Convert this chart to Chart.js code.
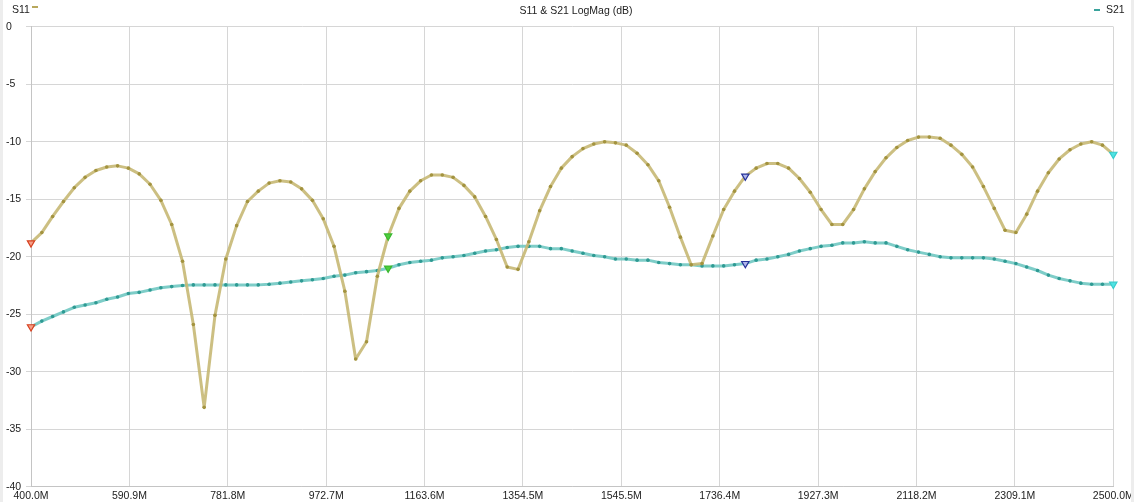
<!DOCTYPE html>
<html><head><meta charset="utf-8">
<script src="https://cdn.jsdelivr.net/npm/chart.js@4"></script>
<style>
html,body{margin:0;padding:0;background:#fff;}
#wrap{position:relative;width:1134px;height:502px;overflow:hidden;font-family:'Liberation Sans',Arial,sans-serif;color:#222;}
canvas{position:absolute;left:0;top:0;}
.t{position:absolute;font-size:10.5px;white-space:nowrap;line-height:12px;}
.edge{position:absolute;top:0;height:502px;background:#ededed;}
</style></head><body>
<div id="wrap">
<canvas id="c" width="1134" height="502"></canvas>
<div class="t" style="left:0;width:1152px;text-align:center;top:4px;">S11 &amp; S21 LogMag (dB)</div>
<div class="t" style="left:12px;top:3px;">S11</div>
<div style="position:absolute;left:32px;top:6px;width:6px;height:2px;background:#b8a85c;"></div>
<div style="position:absolute;left:1094px;top:9px;width:6px;height:2px;background:#3aa39c;"></div>
<div class="t" style="left:1106px;top:3px;">S21</div>
<div class="edge" style="left:0;width:3px;"></div>
<div class="edge" style="left:1131px;width:3px;"></div>
</div>
<script>
// Sweep: 101 points, 400 MHz .. 2500 MHz
const freqStart = 400, freqStep = 21, nPoints = 101;
const freqs = Array.from({length:nPoints}, (_, i) => freqStart + freqStep * i);

const s11 = [
 -18.8,-17.9,-16.5,-15.2,-14.0,-13.1,-12.5,-12.2,-12.1,-12.3,
 -12.8,-13.7,-15.1,-17.2,-20.4,-25.9,-33.1,-25.1,-20.2,-17.3,
 -15.2,-14.3,-13.6,-13.4,-13.5,-14.1,-15.1,-16.7,-19.1,-23.0,
 -28.9,-27.4,-21.7,-18.2,-15.8,-14.3,-13.4,-12.9,-12.9,-13.1,
 -13.8,-14.8,-16.5,-18.5,-20.9,-21.1,-18.7,-16.0,-13.9,-12.3,
 -11.3,-10.6,-10.2,-10.0,-10.1,-10.3,-11.0,-12.0,-13.4,-15.7,
 -18.3,-20.7,-20.6,-18.2,-15.9,-14.3,-13.0,-12.3,-11.9,-11.9,
 -12.3,-13.2,-14.4,-15.9,-17.2,-17.2,-15.9,-14.1,-12.6,-11.4,
 -10.5,-9.9,-9.6,-9.6,-9.7,-10.3,-11.1,-12.2,-13.9,-15.8,
 -17.7,-17.9,-16.3,-14.3,-12.7,-11.5,-10.7,-10.2,-10.0,-10.3,
 -11.1
];
const s21 = [
 -26.1,-25.6,-25.2,-24.8,-24.4,-24.2,-24.0,-23.7,-23.5,-23.2,
 -23.1,-22.9,-22.7,-22.6,-22.5,-22.45,-22.45,-22.45,-22.45,-22.45,
 -22.45,-22.45,-22.4,-22.3,-22.2,-22.1,-22.0,-21.9,-21.7,-21.6,
 -21.4,-21.3,-21.2,-21.0,-20.7,-20.5,-20.4,-20.3,-20.1,-20.0,
 -19.9,-19.7,-19.5,-19.4,-19.2,-19.1,-19.1,-19.1,-19.3,-19.3,
 -19.5,-19.7,-19.9,-20.0,-20.2,-20.2,-20.3,-20.3,-20.5,-20.6,
 -20.7,-20.7,-20.8,-20.8,-20.8,-20.7,-20.6,-20.3,-20.2,-20.0,
 -19.8,-19.5,-19.3,-19.1,-19.0,-18.8,-18.8,-18.7,-18.8,-18.8,
 -19.1,-19.4,-19.6,-19.8,-20.0,-20.1,-20.1,-20.1,-20.1,-20.2,
 -20.4,-20.6,-20.9,-21.2,-21.6,-21.9,-22.1,-22.3,-22.4,-22.4,
 -22.4
];

const xTickValues = [400.0,590.9,781.8,972.7,1163.6,1354.5,1545.5,1736.4,1927.3,2118.2,2309.1,2500.0];
const xTickLabels = ['400.0M','590.9M','781.8M','972.7M','1163.6M','1354.5M','1545.5M','1736.4M','1927.3M','2118.2M','2309.1M','2500.0M'];

// Markers (index into sweep) and their styles
const markerIdx = [0, 33, 66, 100];
const markerFill = ['#f4a08a', '#4ccf3c', '#b0b6ea', '#4fe3e3'];
const markerStroke = ['#d8401f', '#3cb830', '#27349a', '#38cccc'];

function mk(values){ return values.map((v, i) => ({x: freqs[i], y: v})); }
function mi(ctx){ return markerIdx.indexOf(ctx.dataIndex); }

function ds(label, values, lineColor, dotColor){
  return {
    label, data: mk(values),
    borderColor: lineColor, borderWidth: 3, tension: 0, clip: false,
    borderJoinStyle: 'round', borderCapStyle: 'round',
    pointStyle: ctx => mi(ctx) >= 0 ? 'triangle' : 'circle',
    pointRotation: ctx => mi(ctx) >= 0 ? 180 : 0,
    pointRadius: ctx => mi(ctx) >= 0 ? 4.2 : 1.8,
    pointBackgroundColor: ctx => mi(ctx) >= 0 ? markerFill[mi(ctx)] : dotColor,
    pointBorderColor: ctx => mi(ctx) >= 0 ? markerStroke[mi(ctx)] : dotColor,
    pointBorderWidth: ctx => mi(ctx) >= 0 ? 1.2 : 0,
    pointHoverRadius: 0
  };
}

const tickFont = {family: "'Liberation Sans', Arial, sans-serif", size: 10.5};

new Chart(document.getElementById('c'), {
  type: 'line',
  data: { datasets: [
    ds('S11', s11, 'rgba(198,184,116,0.9)', '#a3933f'),
    ds('S21', s21, 'rgba(112,200,194,0.9)', '#2f9a93')
  ]},
  options: {
    responsive: false, animation: false, devicePixelRatio: 1,
    layout: { padding: {left: 6, right: 20.7, top: 26.7, bottom: 0} },
    plugins: { legend: {display: false}, title: {display: false}, tooltip: {enabled: false} },
    events: [],
    scales: {
      x: {
        type: 'linear', min: 400, max: 2500,
        afterBuildTicks: s => { s.ticks = xTickValues.map(v => ({value: v})); },
        afterFit: s => { s.height = 15.3; s.paddingRight = 0; s.paddingLeft = 0; },
        grid: {color: '#d6d6d6', drawTicks: false},
        border: {color: '#c4c4c4'},
        ticks: {padding: 3, maxRotation: 0, autoSkip: false, color: '#222', font: tickFont,
                callback: (v, i) => xTickLabels[i]}
      },
      y: {
        min: -40, max: 0,
        afterFit: s => { s.width = 25; },
        grid: {color: '#d6d6d6', tickLength: 5},
        border: {color: '#c4c4c4'},
        ticks: {stepSize: 5, crossAlign: 'far', color: '#222', font: tickFont}
      }
    }
  }
});
</script>
</body></html>
